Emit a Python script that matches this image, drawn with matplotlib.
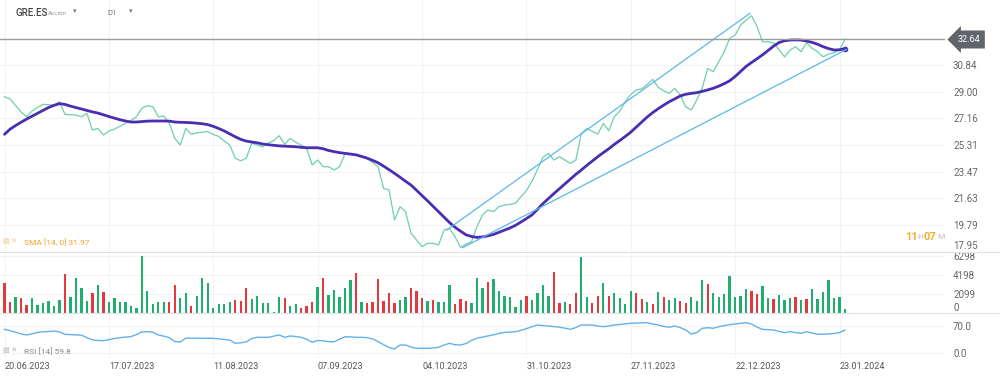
import numpy as np
import matplotlib.pyplot as plt

plt.rcParams['font.family'] = ['Roboto', 'DejaVu Sans']

# daily close, GRE.ES
price = [28.65, 28.50, 28.05, 27.60, 27.26, 27.65, 27.90, 28.12, 28.10, 28.07,
         28.30, 27.43, 27.40, 27.38, 27.26, 27.50, 26.34, 26.46, 26.00, 26.28,
         26.40, 26.60, 26.81, 27.00, 27.26, 27.85, 28.03, 27.96, 27.26, 27.31,
         26.81, 25.77, 25.31, 26.46, 26.05, 26.15, 26.20, 26.23, 26.05, 25.90,
         25.58, 25.31, 24.39, 24.22, 24.39, 25.43, 25.30, 25.19, 25.45, 25.60,
         25.95, 25.36, 25.77, 25.50, 25.30, 25.08, 23.93, 24.27, 23.81, 23.81,
         23.58, 23.81, 24.73, 24.65, 24.60, 24.55, 24.39, 24.10, 23.81, 22.31,
         22.20, 20.12, 21.04, 20.70, 19.20, 18.74, 18.28, 18.51, 18.51, 18.39,
         19.43, 19.55, 18.97, 18.23, 18.45, 18.62, 19.66, 20.47, 20.81, 20.70,
         21.04, 21.16, 21.20, 21.28, 21.73, 22.15, 22.80, 23.60, 24.45, 24.73,
         24.27, 24.50, 24.27, 24.04, 24.27, 26.10, 26.46, 26.25, 26.07, 26.81,
         26.30, 27.26, 27.65, 28.30, 28.80, 29.11, 29.20, 29.50, 29.85, 29.30,
         29.05, 28.88, 29.23, 28.77, 27.96, 27.73, 28.42, 29.23, 30.61, 30.38,
         31.07, 31.75, 32.69, 32.91, 33.61, 33.95, 34.25, 33.49, 32.45, 32.45,
         32.38, 31.90, 31.41, 31.88, 32.11, 31.76, 32.38, 32.00, 31.76, 31.41,
         31.60, 31.69, 31.88, 32.64]

sma = [26.05, 26.40, 26.65, 26.88, 27.10, 27.30, 27.50, 27.70, 27.90, 28.05,
       28.17, 28.12, 28.00, 27.90, 27.80, 27.70, 27.60, 27.52, 27.40, 27.28,
       27.17, 27.06, 26.97, 26.90, 26.90, 26.93, 26.96, 26.97, 26.97, 26.97,
       26.96, 26.90, 26.88, 26.87, 26.85, 26.82, 26.78, 26.72, 26.60, 26.45,
       26.28, 26.08, 25.88, 25.70, 25.58, 25.52, 25.46, 25.38, 25.33, 25.29,
       25.25, 25.23, 25.21, 25.19, 25.15, 25.12, 25.12, 25.12, 25.05, 24.93,
       24.85, 24.78, 24.73, 24.68, 24.63, 24.52, 24.40, 24.25, 24.08, 23.85,
       23.60, 23.35, 23.08, 22.80, 22.54, 22.18, 21.82, 21.45, 21.07, 20.70,
       20.33, 19.95, 19.62, 19.35, 19.10, 18.98, 18.92, 18.95, 19.03, 19.12,
       19.27, 19.42, 19.57, 19.75, 19.98, 20.22, 20.47, 20.85, 21.25, 21.60,
       21.95, 22.28, 22.62, 22.95, 23.28, 23.58, 23.90, 24.20, 24.50, 24.78,
       25.05, 25.35, 25.62, 25.90, 26.20, 26.55, 26.90, 27.25, 27.55, 27.82,
       28.07, 28.30, 28.50, 28.70, 28.82, 28.88, 28.93, 29.02, 29.12, 29.23,
       29.38, 29.55, 29.75, 30.05, 30.40, 30.75, 31.02, 31.28, 31.55, 31.85,
       32.15, 32.40, 32.52, 32.57, 32.58, 32.57, 32.50, 32.41, 32.28, 32.11,
       31.98, 31.88, 31.90, 31.97]

volume = [3280, 1250, 1730, 1690, 880, 1690, 880, 1070, 1320, 770,
          1440, 4270, 1730, 3900, 2720, 1320, 2170, 3090, 2280, 1180,
          1690, 1250, 1250, 770, 590, 6298, 2430, 960, 1250, 1250,
          1180, 3090, 1690, 2170, 810, 1880, 3900, 3280, 520, 990,
          990, 1180, 1400, 1320, 2720, 1510, 1880, 1140, 1140, 100,
          1730, 1620, 810, 960, 520, 810, 1180, 2910, 3830, 1990,
          2540, 1800, 2800, 3640, 4380, 1250, 1070, 1250, 3720, 1320,
          2170, 1070, 1440, 1800, 2720, 2470, 1620, 1360, 1440, 1250,
          1250, 3090, 990, 1510, 1360, 1070, 3900, 2720, 3460, 3720,
          2470, 1880, 1730, 700, 1440, 1880, 1440, 2250, 3090, 1880,
          4490, 1140, 1250, 990, 2170, 6220, 1730, 1070, 1880, 3280,
          1880, 2250, 1620, 990, 2430, 2170, 1550, 1180, 990, 2360,
          1800, 1440, 1620, 1360, 1070, 1800, 1360, 3640, 3200, 2170,
          1730, 2100, 4120, 1800, 1880, 2610, 2470, 2100, 2980, 1620,
          1510, 1990, 1440, 1620, 1800, 1440, 1510, 2650, 1510, 2360,
          3640, 1620, 1730, 400]

vol_dir = ("rrgrrggggg" "grggggrgrg" "gggggggggg" "rrggrggggg"
           "ggrrrggggg" "grggrrrgrg" "ggggrgrrrr" "rrggrrrgrg"
           "ggrrrgggrg" "gggggrgggg" "rrgrrggrrg" "rggggrrgrg"
           "rggrrgggrg" "ggggggrrgg" "rgggrgrggg" "gggg")

rsi = [61.5, 58, 54, 50, 47, 50, 53.5, 55, 56, 57,
       55, 48.7, 48, 47.5, 46.5, 40, 34.5, 33, 32.3, 35,
       38, 40, 41.5, 42.6, 48, 55, 55.4, 54, 47, 44,
       40, 30, 29, 39, 39, 38.5, 38.5, 38.5, 38.5, 37,
       35.5, 34, 25.6, 27, 29, 38, 41, 41, 41, 44,
       47, 41, 44.4, 43, 41, 36, 28.2, 33, 32, 29.7,
       29.7, 36, 42.6, 42, 41, 41, 40, 37, 30, 22,
       15, 11, 21.3, 21.3, 16, 12.8, 12.8, 12.8, 13.5, 15.4,
       21, 25.6, 22, 21.3, 25, 33, 39, 41.5, 44.4, 47.5,
       51, 53.5, 54.5, 55.4, 59, 63, 68, 72.6, 71, 70,
       68.5, 67, 64.5, 61.5, 66, 72.6, 72.6, 72.6, 70, 68.2,
       70, 72.6, 74, 75.5, 76.9, 77.5, 78, 78.5, 75, 72.6,
       69, 66.7, 70, 66, 59.7, 49.5, 53, 64, 65.6, 64.1,
       68, 71, 73.5, 75.1, 77, 78.5, 75, 67, 61.5, 60.5,
       59.7, 56, 52.8, 55.4, 53, 51.3, 55.4, 52, 48.7, 49,
       49.5, 51, 52.8, 59.8]

date_idx = [0, 19, 38, 57, 76, 95, 114, 133, 152]
date_labels = ["20.06.2023", "17.07.2023", "11.08.2023", "07.09.2023", "04.10.2023",
               "31.10.2023", "27.11.2023", "22.12.2023", "23.01.2024"]
price_ticks = [17.95, 19.79, 21.63, 23.47, 25.31, 27.16, 29.00, 30.84]
vol_ticks = [0, 2099, 4198, 6298]
rsi_ticks = [0.0, 70.0]
last_price = 32.64
last_sma = 31.97
last_rsi = 59.8

# drawn trend channel (anchor points, bar index / price)
chan_up_x, chan_up_y = [80.5, 135.7], [19.43, 34.42]
chan_lo_x, chan_lo_y = [83.4, 153.3], [18.21, 31.93]

x = np.arange(len(price))
W, H = 1000, 377
fig = plt.figure(figsize=(10, 3.77), dpi=100)

def box(top, bottom):
    return [0, 1 - bottom / H, 945 / W, (bottom - top) / H]

ax = fig.add_axes(box(0, 251.4))
axv = fig.add_axes(box(252, 313), sharex=ax)
axr = fig.add_axes(box(313, 358), sharex=ax)

for a in (ax, axv, axr):
    for s in a.spines.values():
        s.set_visible(False)
    a.yaxis.tick_right()
    a.tick_params(axis='y', length=0, pad=5.8, labelsize=7, labelcolor='#666666')
    a.tick_params(axis='x', length=0)
    a.set_xticks(date_idx)
    a.grid(True, color='#f3f3f3', lw=0.8)
    a.set_axisbelow(True)

ax.set_xlim(-0.82, 171.2)

# price pane
ax.plot(x, price, color='#76d0b1', lw=0.95)
ax.plot(x, sma, color='#4a2db0', lw=2.0, solid_capstyle='round')
ax.plot(x[-1], last_sma, 'o', color='#4a2db0', ms=3)
ax.plot(chan_up_x, chan_up_y, color='#5cb8e6', lw=0.9)
ax.plot(chan_lo_x, chan_lo_y, color='#5cb8e6', lw=0.9)
ax.axhline(last_price, color='#9c9c9c', lw=1.0)
ax.set_ylim(17.95, 35.34)
ax.set_yticks(price_ticks, labels=[f"{v:.2f}" for v in price_ticks])
ax.tick_params(axis='x', labelbottom=False)
for lbl in ax.get_yticklabels():
    if lbl.get_text() == "17.95":
        lbl.set_va('bottom')

# volume pane
cols = ['#1fae6e' if c == 'g' else '#e2393f' for c in vol_dir]
axv.bar(x, volume, width=0.42, color=cols)
axv.set_ylim(0, 6740)
axv.set_yticks(vol_ticks, labels=[str(v) for v in vol_ticks])
axv.tick_params(axis='x', labelbottom=False)
for lbl in axv.get_yticklabels():
    if lbl.get_text() == "0":
        lbl.set_va('bottom')

# rsi pane
axr.plot(x, rsi, color='#62b2ea', lw=1.0)
axr.set_ylim(-12, 103.3)
axr.set_yticks(rsi_ticks, labels=[f"{v:.1f}" for v in rsi_ticks])
axr.set_xticks(date_idx, labels=date_labels)
axr.tick_params(axis='x', pad=3.2, labelsize=6.5, labelcolor='#555555')
for lbl in axr.get_xticklabels():
    lbl.set_ha('left')

# pane separators
for yy in (251.7, 312.7):
    fig.add_artist(plt.Line2D([0, 1], [1 - yy / H] * 2, color='#e2e2e2', lw=0.8))

def ftext(px, py, s, **kw):
    fig.text(px / W, 1 - py / H, s, va='center', **kw)

# header
ftext(15, 13, "GRE.ES", fontsize=7, color='#444444', fontweight='medium')
ftext(48, 13.5, "Acción", fontsize=4.5, color='#9a9a9a')
ftext(73, 12, "▾", fontsize=5, color='#777777')
ftext(107, 13, "D1", fontsize=5.5, color='#777777')
ftext(129, 12, "▾", fontsize=5, color='#777777')

# last price tag
ftext(969, 39.5, f"{last_price:.2f}", fontsize=6.5, color='white', ha='center',
      bbox=dict(boxstyle='larrow,pad=0.5', fc='#60656b', ec='none'))

# indicator legends
ftext(3, 242, "▤ ✕", fontsize=5, color='#f2c889')
ftext(24, 242, f"SMA [14, 0] {last_sma:.2f}", fontsize=6, color='#f0a22a')
ftext(3, 351, "▤ ✕", fontsize=5, color='#b5b5b5')
ftext(24, 351, f"RSI [14] {last_rsi:.1f}", fontsize=6, color='#888888')

# countdown
fig.text(905 / W, 1 - 237 / H, "11", fontsize=8, color='#f0b030', fontweight='bold', va='center')
fig.text(917 / W, 1 - 237 / H, "H", fontsize=6, color='#bbbbbb', va='center')
fig.text(924 / W, 1 - 237 / H, "07", fontsize=8, color='#f0b030', fontweight='bold', va='center')
fig.text(937 / W, 1 - 237 / H, "M", fontsize=6, color='#bbbbbb', va='center')

fig.savefig("out.png", dpi=100, facecolor='white')
